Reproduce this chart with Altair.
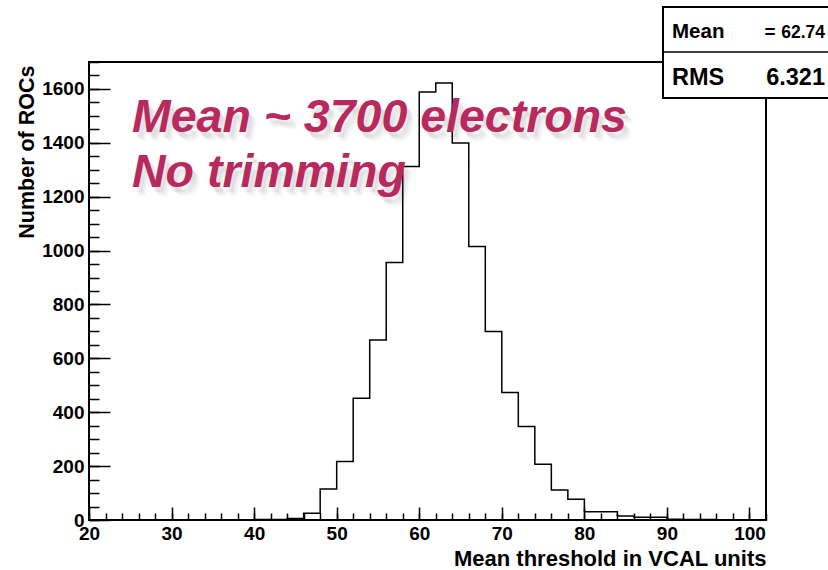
import altair as alt
import pandas as pd

# ---- data ----
bin_starts = list(range(20, 102, 2))  # 20,22,...,100 (bin width 2)
counts = [0, 0, 0, 1, 1, 0, 0, 0, 0, 1,
          2, 2, 6, 25, 115, 217, 452, 668, 956, 1312,
          1589, 1622, 1399, 1015, 700, 473, 347, 207, 111, 77,
          31, 31, 15, 10, 10, 3, 2, 2, 1, 1,
          0]
x_major = list(range(20, 101, 10))
x_minor = list(range(20, 103, 2))
y_major = list(range(0, 1601, 200))
y_minor = list(range(0, 1701, 50))
annotation = "Mean ~ 3700 electrons\nNo trimming"
stat_mean_label, stat_mean_eq, stat_mean_value = "Mean", "=", "62.74"
stat_rms_label, stat_rms_value = "RMS", "6.321"

edges = bin_starts + [bin_starts[-1] + 2]
heights = counts + [counts[-1]]
df = pd.DataFrame({"edge": edges, "count": heights})

FONT = "Liberation Sans"
W, H = 677, 458

xscale = alt.Scale(domain=[20, 102], nice=False, zero=False)
yscale = alt.Scale(domain=[0, 1700], nice=False)

common_axis = dict(grid=False, domain=False, tickColor="black", tickWidth=1.5,
                   labelFont=FONT, labelFontWeight="bold", labelColor="black",
                   titleFont=FONT, titleFontWeight="bold", titleColor="black")

major_x = alt.Axis(orient="bottom", values=x_major, tickSize=13, offset=-13,
                   labelFontSize=19, labelPadding=4, labelFlush=False,
                   labelOverlap=False, format="d",
                   title="Mean threshold in VCAL units", titleFontSize=22,
                   titleX=W, titleY=58, titleAlign="right",
                   titleBaseline="alphabetic", **common_axis)
minor_x = alt.Axis(orient="bottom", values=x_minor, tickSize=7, offset=-7,
                   labels=False, title=None, **common_axis)
major_y = alt.Axis(orient="left", values=y_major, tickSize=21, offset=-21,
                   labelFontSize=19, labelPadding=5, labelFlush=False,
                   labelOverlap=False, format="d",
                   title="Number of ROCs", titleFontSize=21.5, titleAngle=270,
                   titleX=-77, titleY=3, titleAlign="right",
                   titleBaseline="alphabetic", **common_axis)
minor_y = alt.Axis(orient="left", values=y_minor, tickSize=10, offset=-10,
                   labels=False, title=None, **common_axis)

base = alt.Chart(df)

frame = alt.Chart(pd.DataFrame({"k": [0]})).mark_rect(
    fill=None, stroke="black", strokeWidth=2
).encode(x=alt.value(0), x2=alt.value(W), y=alt.value(0), y2=alt.value(H))

hist = base.mark_line(interpolate="step-after", color="black", strokeWidth=1.5).encode(
    x=alt.X("edge:Q", scale=xscale, axis=major_x),
    y=alt.Y("count:Q", scale=yscale, axis=major_y),
)
minor = base.mark_line(opacity=0).encode(
    x=alt.X("edge:Q", scale=xscale, axis=minor_x),
    y=alt.Y("count:Q", scale=yscale, axis=minor_y),
)

ann_df = pd.DataFrame({"t": [annotation]})
text_style = dict(font=FONT, fontSize=46.5, fontWeight="bold", fontStyle="italic",
                  align="left", baseline="alphabetic", lineBreak="\n", lineHeight=55)
shadows = []
for dx, dy, op in [(3, 5, 0.07), (5, 7, 0.06), (7, 9, 0.04)]:
    shadows.append(
        alt.Chart(ann_df).mark_text(color="#444444", opacity=op, dx=dx, dy=dy,
                                    **text_style)
        .encode(x=alt.value(43), y=alt.value(70), text="t:N")
    )
ann = alt.Chart(ann_df).mark_text(color="#B8295D", **text_style).encode(
    x=alt.value(43), y=alt.value(70), text="t:N")

box = alt.Chart(pd.DataFrame({"k": [0]})).mark_rect(
    fill="white", stroke="black", strokeWidth=2
).encode(x=alt.value(574), x2=alt.value(780), y=alt.value(-55), y2=alt.value(36))
divider = alt.Chart(pd.DataFrame({"k": [0]})).mark_rule(
    color="black", strokeWidth=1.5
).encode(x=alt.value(574), x2=alt.value(780), y=alt.value(-10))

def stat_text(txt, x, y, size, align):
    return alt.Chart(pd.DataFrame({"t": [txt]})).mark_text(
        font=FONT, fontSize=size, fontWeight="bold", align=align,
        baseline="alphabetic", color="black",
    ).encode(x=alt.value(x), y=alt.value(y), text="t:N")

stats = [
    stat_text(stat_mean_label, 583, -24, 20.5, "left"),
    stat_text(stat_mean_eq, 681, -24, 19, "center"),
    stat_text(stat_mean_value, 736, -24, 17.5, "right"),
    stat_text(stat_rms_label, 583, 23, 23.5, "left"),
    stat_text(stat_rms_value, 736, 23, 23.5, "right"),
]

chart = alt.layer(
    hist, minor, frame, *shadows, ann, box, divider, *stats
).resolve_axis(x="independent", y="independent").properties(
    width=W, height=H,
    padding={"left": 89, "top": 62, "right": 62, "bottom": 50},
    autosize=alt.AutoSizeParams(type="none"),
    background="white",
).configure_view(stroke=None)

chart.save("out.html", embed_options={"renderer": "svg", "actions": False})
